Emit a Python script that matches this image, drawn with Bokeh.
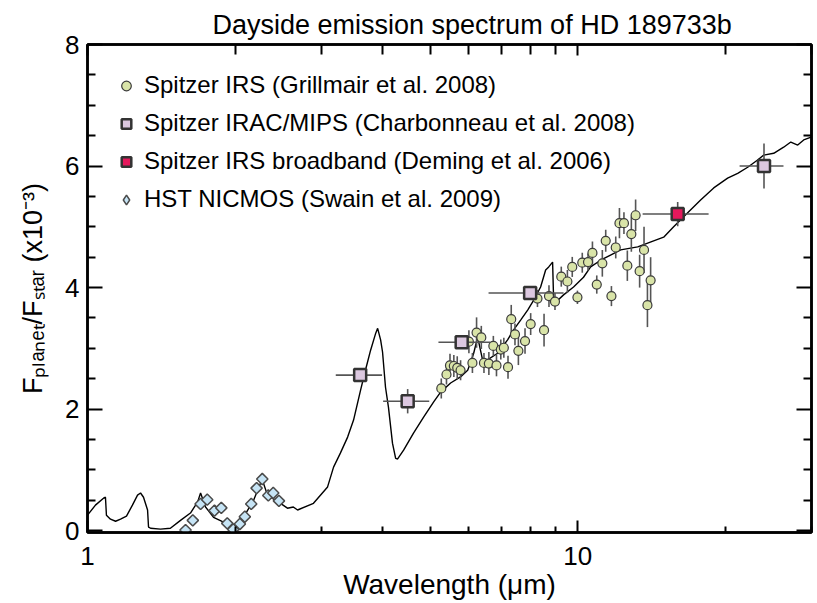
import math
from bokeh.plotting import figure
from bokeh.models import (Range1d, LogAxis, LinearAxis, FixedTicker, PrintfTickFormatter,
                          CustomJSTickFormatter, Legend, LegendItem, Title)
from bokeh.embed import file_html
from bokeh.resources import INLINE

# ---------------- data ----------------
model_wl = [1.000, 1.038, 1.078, 1.088, 1.093, 1.114, 1.141, 1.168, 1.201, 1.235,
            1.265, 1.283, 1.301, 1.326, 1.332, 1.345, 1.409, 1.476, 1.548, 1.622,
            1.677, 1.701, 1.741, 1.808, 1.895, 1.958, 1.986, 2.080, 2.182, 2.254,
            2.275, 2.329, 2.476, 2.558, 2.630, 2.683, 2.891, 3.089, 3.177, 3.282,
            3.394, 3.490, 3.606, 3.690, 3.781, 3.873, 3.908, 3.963, 3.999, 4.055,
            4.112, 4.190, 4.253, 4.293, 4.415, 4.625, 4.850, 5.081, 5.253, 5.506,
            5.768, 5.966, 6.050, 6.136, 6.252, 6.398, 6.547, 6.866, 7.196, 7.396,
            7.650, 7.907, 8.13, 8.404, 8.604, 8.73, 8.89, 8.93, 9.02, 9.36,
            9.81, 10.28, 10.63, 11.14, 11.67, 12.24, 13.26, 14.29, 14.98, 15.70,
            16.77, 17.82, 18.95, 20.23, 21.21, 22.23, 23.29, 23.97, 25.12, 26.32,
            27.22, 28.12, 28.92, 30.04]
model_f = [0.255, 0.42, 0.535, 0.55, 0.255, 0.19, 0.155, 0.19, 0.24, 0.42,
           0.585, 0.62, 0.55, 0.34, 0.06, 0.04, 0.025, 0.04, 0.17, 0.29,
           0.47, 0.62, 0.39, 0.22, 0.14, 0.06, 0.04, 0.22, 0.50, 0.78,
           0.83, 0.585, 0.45, 0.37, 0.39, 0.34, 0.45, 0.72, 1.045, 1.28,
           1.54, 1.82, 2.31, 2.64, 2.97, 3.25, 3.33, 3.14, 2.94, 2.36,
           2.03, 1.44, 1.19, 1.18, 1.325, 1.605, 1.87, 2.115, 2.28, 2.43,
           2.53, 2.64, 2.77, 2.92, 3.185, 2.81, 2.81, 2.92, 3.14, 3.30,
           3.465, 3.63, 3.79, 4.01, 4.29, 4.34, 4.42, 3.84, 3.76, 3.88,
           4.01, 4.17, 4.34, 4.45, 4.535, 4.62, 4.67, 4.77, 4.83, 5.00,
           5.23, 5.44, 5.64, 5.80, 5.88, 5.98, 6.10, 6.18, 6.21, 6.31,
           6.395, 6.345, 6.43, 6.48]

irs_wl = [5.27, 5.40, 5.49, 5.59, 5.68, 5.77, 6.00, 6.10, 6.22, 6.36,
          6.44, 6.59, 6.73, 6.83, 6.97, 7.07, 7.21, 7.32, 7.45, 7.57,
          7.81, 8.02, 8.28, 8.54, 8.74, 8.99, 9.26, 9.53, 9.75, 9.99,
          10.22, 10.50, 10.72, 10.94, 11.23, 11.41, 11.72, 11.96, 12.17, 12.43,
          12.63, 12.87, 13.13, 13.38, 13.66, 13.88, 14.09]
irs_f = [2.34, 2.57, 2.72, 2.71, 2.68, 2.64, 3.11, 2.76, 3.26, 3.18,
         2.76, 2.75, 3.04, 2.72, 2.98, 3.01, 2.69, 3.48, 3.23, 2.96,
         3.12, 3.40, 3.82, 3.30, 3.86, 3.77, 4.18, 4.10, 4.34, 3.84,
         4.41, 4.42, 4.57, 4.05, 4.40, 4.77, 3.86, 4.66, 5.06, 5.06,
         4.36, 4.88, 5.19, 4.27, 4.62, 3.71, 4.12]
irs_err = [0.165, 0.165, 0.19, 0.18, 0.19, 0.165, 0.19, 0.165, 0.25, 0.19,
           0.165, 0.19, 0.165, 0.18, 0.165, 0.165, 0.19, 0.235, 0.18, 0.235,
           0.21, 0.18, 0.14, 0.27, 0.18, 0.14, 0.165, 0.19, 0.165, 0.11,
           0.165, 0.14, 0.19, 0.15, 0.22, 0.18, 0.165, 0.18, 0.25, 0.18,
           0.25, 0.29, 0.26, 0.27, 0.38, 0.36, 0.38]

irac_wl = [3.6, 4.5, 5.8, 8.0, 24.0]
irac_f = [2.56, 2.13, 3.10, 3.91, 6.00]
irac_ferr = [0.11, 0.20, 0.10, 0.10, 0.37]
irac_wl_lo = [3.21, 4.01, 5.20, 6.58, 21.4]
irac_wl_hi = [3.99, 4.98, 6.64, 9.36, 26.3]

bb_wl = [16.0]
bb_f = [5.21]
bb_ferr = [0.20]
bb_wl_lo = [13.57]
bb_wl_hi = [18.5]

nic_wl = [1.472, 1.524, 1.585, 1.640, 1.701, 1.755, 1.816, 1.875, 1.928, 1.983,
          2.046, 2.094, 2.158, 2.213, 2.273, 2.338, 2.393, 2.458]
nic_f = [-0.11, -0.21, 0.01, 0.17, 0.44, 0.51, 0.33, 0.375, 0.12, 0.02,
         0.11, 0.23, 0.44, 0.70, 0.85, 0.58, 0.62, 0.49]

x_major = [1, 10]
x_minor = [2, 3, 4, 5, 6, 7, 8, 9, 20, 30]
y_major = [0, 2, 4, 6, 8]
y_minor = [0.5, 1, 1.5, 2.5, 3, 3.5, 4.5, 5, 5.5, 6.5, 7, 7.5]

title_text = "Dayside emission spectrum of HD 189733b"
xlabel_text = "Wavelength (\u03bcm)"
ylabel_text = "F\u209a\u2097\u2090\u2099\u2091\u209c/F\u209b\u209c\u2090\u1d63 (x10\u207b\u00b3)"
legend_labels = ["Spitzer IRS (Grillmair et al. 2008)",
                 "Spitzer IRAC/MIPS (Charbonneau et al. 2008)",
                 "Spitzer IRS broadband (Deming et al. 2006)",
                 "HST NICMOS (Swain et al. 2009)"]

# ---------------- figure ----------------
FONT = "Liberation Sans"

p = figure(width=817, height=603, x_axis_type="log",
           x_range=Range1d(1, 30), y_range=Range1d(-0.03, 8.0),
           output_backend="svg", toolbar_location=None,
           min_border_left=87, min_border_right=6, min_border_top=44,
           min_border_bottom=71)
p.xgrid.visible = False
p.ygrid.visible = False
p.outline_line_color = "black"
p.outline_line_width = 2.5
p.background_fill_color = "white"
p.border_fill_color = "white"

xa = p.xaxis[0]
xa.ticker = FixedTicker(ticks=x_major, minor_ticks=x_minor)
xa.formatter = PrintfTickFormatter(format="%d")
xa.major_tick_in, xa.major_tick_out = 12, 0
xa.minor_tick_in, xa.minor_tick_out = 6, 0
xa.major_label_standoff = 14
xa.axis_label = xlabel_text
xa.axis_label_standoff = 1

ya = p.yaxis[0]
ya.ticker = FixedTicker(ticks=y_major, minor_ticks=y_minor)
ya.major_tick_in, ya.major_tick_out = 15, 0
ya.minor_tick_in, ya.minor_tick_out = 8, 0
ya.major_label_standoff = 8
ya.axis_label = ylabel_text
ya.axis_label_standoff = 14

top = LogAxis(ticker=FixedTicker(ticks=x_major, minor_ticks=x_minor),
              formatter=CustomJSTickFormatter(code="return ''"),
              major_tick_in=11, major_tick_out=0, minor_tick_in=10, minor_tick_out=0,
              major_label_standoff=0)
right = LinearAxis(ticker=FixedTicker(ticks=y_major, minor_ticks=y_minor),
                   formatter=CustomJSTickFormatter(code="return ''"),
                   major_tick_in=15, major_tick_out=0, minor_tick_in=8, minor_tick_out=0,
                   major_label_standoff=0)
p.add_layout(top, "above")
p.add_layout(right, "right")

for ax in [xa, ya, top, right]:
    ax.axis_line_width = 2.5
    ax.axis_line_color = "black"
    ax.major_tick_line_width = 2
    ax.minor_tick_line_width = 2
    ax.major_tick_line_color = "black"
    ax.minor_tick_line_color = "black"
    ax.major_label_text_font = FONT
    ax.major_label_text_font_size = "26px"
    ax.major_label_text_color = "black"
    ax.axis_label_text_font = FONT
    ax.axis_label_text_font_size = "27px"
    ax.axis_label_text_font_style = "normal"
    ax.axis_label_text_color = "black"
xa.axis_label_text_font_size = "28px"

p.add_layout(Title(text=title_text, align="left", offset=125, standoff=9,
                   text_font=FONT, text_font_size="27px", text_font_style="normal",
                   text_color="black"), "above")

# ---------------- glyphs ----------------
p.line(model_wl, model_f, line_color="black", line_width=1.4)

err_col = "#555555"
p.segment(x0=irs_wl, x1=irs_wl,
          y0=[f - e for f, e in zip(irs_f, irs_err)],
          y1=[f + e for f, e in zip(irs_f, irs_err)],
          line_color=err_col, line_width=1.6)
r_irs = p.scatter(irs_wl, irs_f, marker="circle", size=9, fill_color="#D9E4A8",
                  line_color="#3a3a3a", line_width=1.2)

p.segment(x0=irac_wl_lo, x1=irac_wl_hi, y0=irac_f, y1=irac_f, line_color=err_col, line_width=1.6)
p.segment(x0=irac_wl, x1=irac_wl,
          y0=[f - e for f, e in zip(irac_f, irac_ferr)],
          y1=[f + e for f, e in zip(irac_f, irac_ferr)],
          line_color=err_col, line_width=1.6)
r_irac = p.scatter(irac_wl, irac_f, marker="square", size=12, fill_color="#DCC8E0",
                   line_color="#333333", line_width=2.5)

p.segment(x0=bb_wl_lo, x1=bb_wl_hi, y0=bb_f, y1=bb_f, line_color=err_col, line_width=1.6)
p.segment(x0=bb_wl, x1=bb_wl,
          y0=[f - e for f, e in zip(bb_f, bb_ferr)],
          y1=[f + e for f, e in zip(bb_f, bb_ferr)],
          line_color=err_col, line_width=1.6)
r_bb = p.scatter(bb_wl, bb_f, marker="square", size=12, fill_color="#E5185C",
                 line_color="#333333", line_width=2.5)

# NICMOS: a diamond-marker renderer (used for the legend swatch), covered by
# the 45-degree-rotated squares that reproduce the reference's diamonds
r_nic_leg = p.scatter(nic_wl, nic_f, marker="diamond", size=10,
                      fill_color="#C6E4F5", line_color="#4a4a4a", line_width=1.5)
r_nic = p.scatter(nic_wl, nic_f, marker="square", angle=math.pi / 4, size=8,
                  fill_color="#C6E4F5", line_color="#4a4a4a", line_width=1.5)

legend = Legend(items=[LegendItem(label=legend_labels[0], renderers=[r_irs]),
                       LegendItem(label=legend_labels[1], renderers=[r_irac]),
                       LegendItem(label=legend_labels[2], renderers=[r_bb]),
                       LegendItem(label=legend_labels[3], renderers=[r_nic_leg])],
                location="top_left", margin=27, padding=0, spacing=10,
                glyph_width=24, glyph_height=27, label_height=27, label_standoff=6,
                label_text_font=FONT, label_text_font_size="24px",
                label_text_color="black",
                border_line_color=None, background_fill_alpha=0)
p.add_layout(legend, "center")

open("out.html", "w").write(file_html(p, INLINE))
